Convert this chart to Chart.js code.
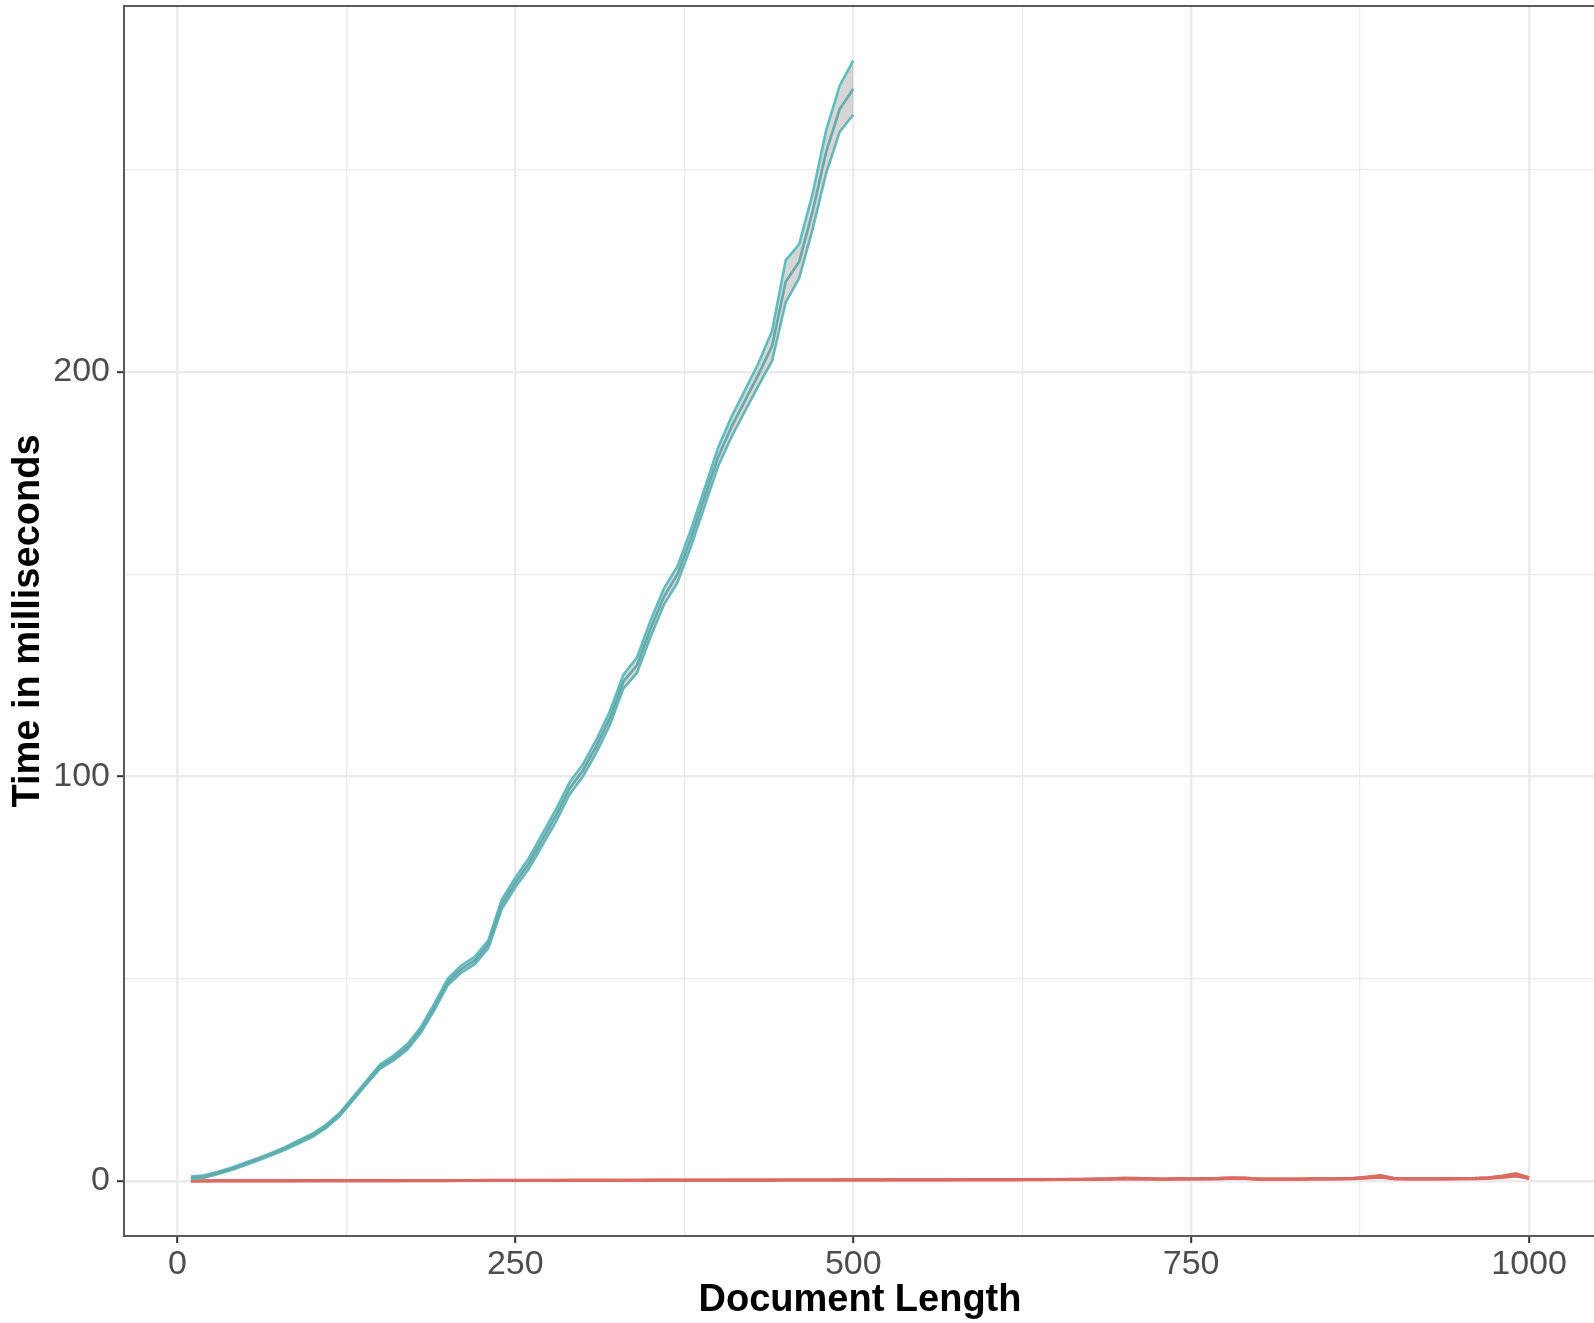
<!DOCTYPE html>
<html>
<head>
<meta charset="utf-8">
<script src="https://cdn.jsdelivr.net/npm/chart.js@4.4.1/dist/chart.umd.min.js"></script>
<style>
  html, body { margin: 0; padding: 0; background: #fff; overflow: hidden; }
  #wrap { width: 1600px; height: 1323px; position: relative; }
</style>
</head>
<body>
<div id="wrap"><canvas id="chart"></canvas></div>
<script>
// Document length (x) and timing (ms) for the two methods.
const BLUE_X = [10, 20, 30, 40, 50, 60, 70, 80, 90, 100,
  110, 120, 130, 140, 150, 160, 170, 180, 190, 200,
  210, 220, 230, 240, 250, 260, 270, 280, 290, 300,
  310, 320, 330, 340, 350, 360, 370, 380, 390, 400,
  410, 420, 430, 440, 450, 460, 470, 480, 490, 500];
const BLUE_MEAN = [0.8, 1.1, 2.0, 3.0, 4.2, 5.4, 6.7, 8.1, 9.7, 11.3,
  13.5, 16.4, 20.4, 24.4, 28.3, 30.4, 33.1, 37.3, 43.0, 49.2,
  52.4, 54.5, 58.5, 68.4, 73.8, 78.5, 84.4, 90.3, 97.0, 101.5,
  107.5, 114.5, 123.5, 127.5, 136.5, 144.5, 150.0, 159.0, 169.0, 179.0,
  186.5, 193.0, 199.5, 206.5, 222.3, 227.3, 239.8, 254.5, 265.0, 270.0];
const BLUE_LOW = [0.5, 0.8, 1.7, 2.7, 3.9, 5.1, 6.4, 7.8, 9.3, 10.9,
  13.1, 16.0, 20.0, 24.0, 27.8, 29.8, 32.4, 36.6, 42.2, 48.4,
  51.5, 53.6, 57.5, 67.2, 72.6, 77.2, 83.0, 88.8, 95.5, 100.0,
  105.9, 112.8, 121.8, 125.6, 134.5, 142.5, 148.0, 156.9, 166.8, 176.7,
  184.0, 190.4, 196.7, 202.8, 217.2, 223.2, 235.4, 249.2, 259.4, 263.6];
const BLUE_HIGH = [1.1, 1.4, 2.3, 3.3, 4.5, 5.7, 7.0, 8.4, 10.1, 11.7,
  13.9, 16.8, 20.8, 24.8, 28.8, 31.0, 33.8, 38.0, 43.8, 50.0,
  53.3, 55.4, 59.5, 69.6, 75.0, 79.8, 85.8, 91.8, 98.5, 103.0,
  109.1, 116.2, 125.2, 129.4, 138.5, 146.5, 152.0, 161.1, 171.2, 181.3,
  189.0, 195.6, 202.3, 210.2, 227.6, 231.6, 244.2, 259.8, 270.8, 277.0];

const RED_X = [10, 20, 30, 40, 50, 60, 70, 80, 90, 100,
  110, 120, 130, 140, 150, 160, 170, 180, 190, 200,
  210, 220, 230, 240, 250, 260, 270, 280, 290, 300,
  310, 320, 330, 340, 350, 360, 370, 380, 390, 400,
  410, 420, 430, 440, 450, 460, 470, 480, 490, 500,
  510, 520, 530, 540, 550, 560, 570, 580, 590, 600,
  610, 620, 630, 640, 650, 660, 670, 680, 690, 700,
  710, 720, 730, 740, 750, 760, 770, 780, 790, 800,
  810, 820, 830, 840, 850, 860, 870, 880, 890, 900,
  910, 920, 930, 940, 950, 960, 970, 980, 990, 1000];
const RED_MEAN = [0.02, 0.02, 0.03, 0.03, 0.04, 0.04, 0.05, 0.05, 0.06, 0.06,
  0.07, 0.07, 0.08, 0.08, 0.09, 0.09, 0.10, 0.10, 0.11, 0.11,
  0.12, 0.12, 0.13, 0.13, 0.14, 0.14, 0.15, 0.15, 0.16, 0.16,
  0.17, 0.17, 0.18, 0.18, 0.19, 0.19, 0.20, 0.20, 0.21, 0.21,
  0.22, 0.22, 0.23, 0.23, 0.24, 0.24, 0.25, 0.25, 0.26, 0.26,
  0.27, 0.27, 0.28, 0.28, 0.29, 0.30, 0.30, 0.31, 0.32, 0.32,
  0.33, 0.34, 0.35, 0.36, 0.37, 0.38, 0.42, 0.45, 0.50, 0.62,
  0.58, 0.50, 0.48, 0.50, 0.52, 0.55, 0.60, 0.70, 0.66, 0.48,
  0.45, 0.47, 0.48, 0.50, 0.52, 0.55, 0.62, 0.85, 1.15, 0.60,
  0.50, 0.52, 0.50, 0.55, 0.58, 0.62, 0.75, 1.05, 1.55, 0.70];
const RED_LOW = [-0.03, -0.03, -0.02, -0.02, -0.01, -0.01, 0.00, 0.00, 0.01, 0.01,
  0.02, 0.02, 0.03, 0.03, 0.04, 0.04, 0.05, 0.05, 0.06, 0.06,
  0.07, 0.07, 0.08, 0.08, 0.09, 0.09, 0.10, 0.10, 0.11, 0.11,
  0.12, 0.12, 0.13, 0.13, 0.14, 0.14, 0.15, 0.15, 0.16, 0.16,
  0.17, 0.17, 0.18, 0.18, 0.19, 0.19, 0.20, 0.20, 0.21, 0.21,
  0.22, 0.22, 0.23, 0.23, 0.24, 0.25, 0.25, 0.26, 0.27, 0.27,
  0.27, 0.28, 0.29, 0.30, 0.31, 0.32, 0.35, 0.37, 0.40, 0.48,
  0.46, 0.42, 0.40, 0.42, 0.44, 0.46, 0.50, 0.56, 0.54, 0.40,
  0.37, 0.39, 0.40, 0.42, 0.44, 0.46, 0.52, 0.68, 0.90, 0.48,
  0.42, 0.44, 0.42, 0.46, 0.48, 0.52, 0.62, 0.82, 1.20, 0.55];
const RED_HIGH = [0.07, 0.07, 0.08, 0.08, 0.09, 0.09, 0.10, 0.10, 0.11, 0.11,
  0.12, 0.12, 0.13, 0.13, 0.14, 0.14, 0.15, 0.15, 0.16, 0.16,
  0.17, 0.17, 0.18, 0.18, 0.19, 0.19, 0.20, 0.20, 0.21, 0.21,
  0.22, 0.22, 0.23, 0.23, 0.24, 0.24, 0.25, 0.25, 0.26, 0.26,
  0.27, 0.27, 0.28, 0.28, 0.29, 0.29, 0.30, 0.30, 0.31, 0.31,
  0.32, 0.32, 0.33, 0.33, 0.34, 0.35, 0.35, 0.36, 0.37, 0.37,
  0.39, 0.40, 0.41, 0.42, 0.43, 0.44, 0.49, 0.53, 0.60, 0.76,
  0.70, 0.58, 0.56, 0.58, 0.60, 0.64, 0.70, 0.84, 0.78, 0.56,
  0.53, 0.55, 0.56, 0.58, 0.60, 0.64, 0.72, 1.02, 1.40, 0.72,
  0.58, 0.60, 0.58, 0.64, 0.68, 0.72, 0.88, 1.28, 1.90, 0.85];

// Axis breaks: major ones carry a label, the rest are minor grid lines.
const X_BREAKS = [0, 125, 250, 375, 500, 625, 750, 875, 1000];
const X_LABELED = [0, 250, 500, 750, 1000];
const Y_BREAKS = [0, 50, 100, 150, 200, 250];
const Y_LABELED = [0, 100, 200];

const X_RANGE = [-39.5, 1049.5];
const Y_RANGE = [-13.6, 290.5];

const COLOR = {
  teal: '#5dbdc0',
  tealMean: '#66a9ab',
  red: '#dc6a62',
  ribbon: 'rgba(153, 153, 153, 0.4)',
  grid: '#ebebeb',
  tick: '#333333',
  tickText: '#4d4d4d',
  frame: '#5a5a5a',
};
const FONT = "'Liberation Sans', Arial, Helvetica, sans-serif";

function points(xs, ys) {
  return xs.map((x, i) => ({ x, y: ys[i] }));
}

function lineSet(label, xs, ys, color, extra) {
  return Object.assign({
    label,
    data: points(xs, ys),
    borderColor: color,
    borderWidth: 2.6,
    pointRadius: 0,
    tension: 0,
    fill: false,
  }, extra || {});
}

// ggplot-style frame: left/top/bottom visible, right lies just off-screen.
const panelFrame = {
  id: 'panelFrame',
  afterDraw(chart) {
    const { ctx, chartArea: a } = chart;
    ctx.save();
    ctx.strokeStyle = COLOR.frame;
    ctx.lineWidth = 2;
    ctx.strokeRect(a.left, a.top, a.right - a.left, a.bottom - a.top);
    ctx.restore();
  },
};

function gridFor(labeled) {
  return {
    color: COLOR.grid,
    lineWidth: (c) => (labeled.includes(c.tick.value) ? 2.4 : 1.3),
    tickColor: (c) => (labeled.includes(c.tick.value) ? COLOR.tick : 'rgba(0,0,0,0)'),
    tickWidth: 2,
    tickLength: 7,
    drawTicks: true,
  };
}

new Chart(document.getElementById('chart'), {
  type: 'line',
  data: {
    datasets: [
      lineSet('Blue mean', BLUE_X, BLUE_MEAN, COLOR.tealMean),
      lineSet('Blue upper', BLUE_X, BLUE_HIGH, COLOR.teal, { fill: '+1', backgroundColor: COLOR.ribbon }),
      lineSet('Blue lower', BLUE_X, BLUE_LOW, COLOR.teal),
      lineSet('Red mean', RED_X, RED_MEAN, COLOR.red, { borderWidth: 3.2 }),
      lineSet('Red upper', RED_X, RED_HIGH, COLOR.red, { fill: '+1', backgroundColor: COLOR.ribbon, borderWidth: 2.6 }),
      lineSet('Red lower', RED_X, RED_LOW, COLOR.red, { borderWidth: 2.6 }),
    ],
  },
  options: {
    responsive: true,
    maintainAspectRatio: false,
    animation: false,
    devicePixelRatio: 1,
    layout: { padding: { top: 6, right: 4, left: 0, bottom: 0 } },
    plugins: {
      legend: { display: false },
      tooltip: { enabled: false },
    },
    scales: {
      x: {
        type: 'linear',
        min: X_RANGE[0],
        max: X_RANGE[1],
        afterBuildTicks: (s) => { s.ticks = X_BREAKS.map((v) => ({ value: v })); },
        afterFit: (s) => { s.height = 87; s.paddingLeft = 0; s.paddingRight = 0; },
        grid: gridFor(X_LABELED),
        border: { display: false },
        ticks: {
          autoSkip: false,
          maxRotation: 0,
          padding: 1,
          color: COLOR.tickText,
          font: { family: FONT, size: 34 },
          callback: (v) => (X_LABELED.includes(v) ? String(v) : ''),
        },
        title: {
          display: true,
          text: 'Document Length',
          color: '#000',
          font: { family: FONT, size: 38, weight: 'bold' },
          padding: { top: 0, bottom: 0 },
        },
      },
      y: {
        type: 'linear',
        min: Y_RANGE[0],
        max: Y_RANGE[1],
        afterBuildTicks: (s) => { s.ticks = Y_BREAKS.map((v) => ({ value: v })); },
        afterFit: (s) => { s.width = 124; s.paddingTop = 0; s.paddingBottom = 0; },
        grid: gridFor(Y_LABELED),
        border: { display: false },
        ticks: {
          padding: 7,
          color: COLOR.tickText,
          font: { family: FONT, size: 34 },
          callback: (v) => (Y_LABELED.includes(v) ? String(v) : ''),
        },
        title: {
          display: true,
          text: 'Time in milliseconds',
          color: '#000',
          font: { family: FONT, size: 38, weight: 'bold' },
          padding: { top: 6, bottom: 0 },
        },
      },
    },
  },
  plugins: [panelFrame],
});
</script>
</body>
</html>
